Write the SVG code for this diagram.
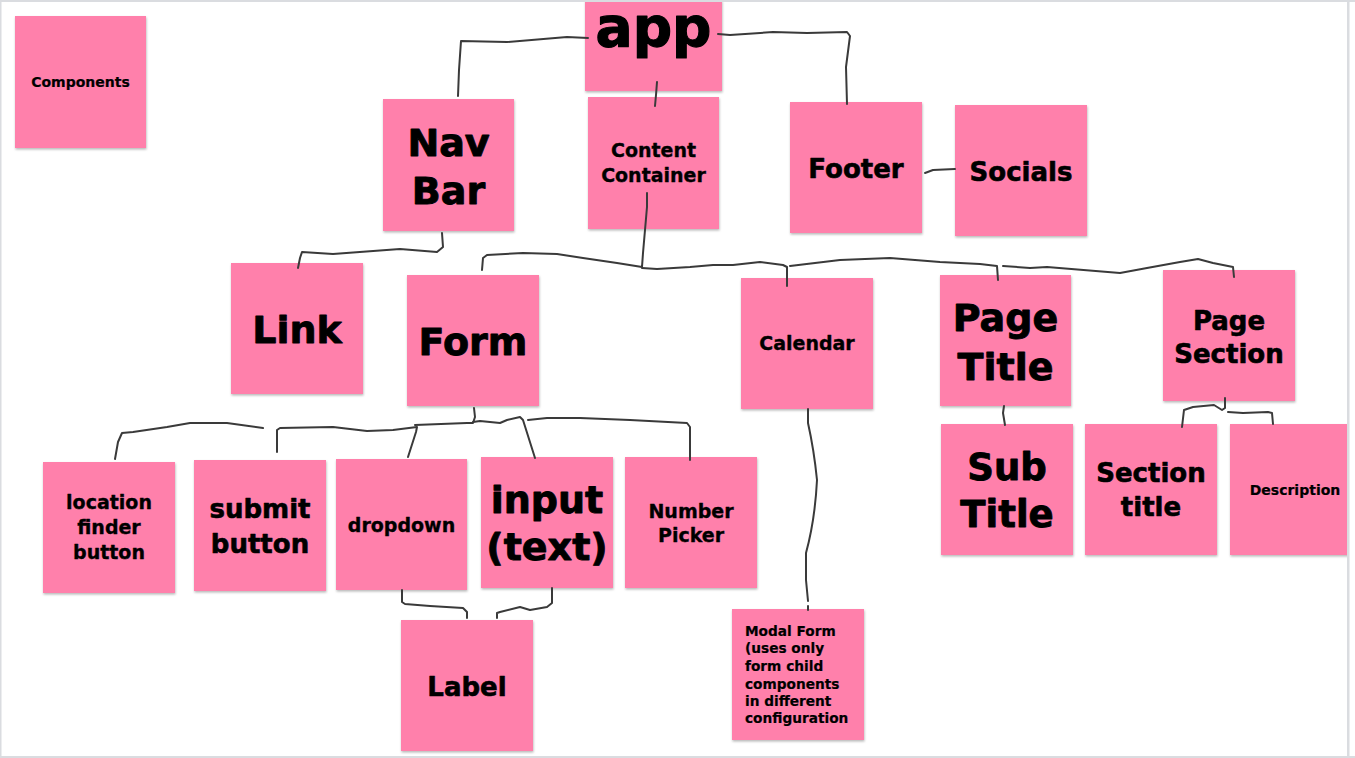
<svg xmlns="http://www.w3.org/2000/svg" width="1355" height="758" viewBox="0 0 1355 758">
<defs>
<filter id="sh" x="-10%" y="-10%" width="130%" height="130%">
<feDropShadow dx="0.5" dy="1.5" stdDeviation="1.2" flood-color="#000" flood-opacity="0.28"/>
</filter>
<clipPath id="slide"><rect x="0" y="0" width="1348" height="757"/></clipPath>
</defs>
<style>
.n{fill:#ff80ab;filter:url(#sh)}
text{font-family:"DejaVu Sans","Liberation Sans",sans-serif;font-weight:bold;fill:#000;stroke:#000;stroke-linejoin:round;text-anchor:middle}
.s14{font-size:14px;stroke-width:0.2}
.s19{font-size:19px;stroke-width:0.35}
.s26{font-size:26px;stroke-width:0.6}
.s38{font-size:38px;stroke-width:0.9}
.l{text-anchor:start}
.c{fill:none;stroke:#3a3a3a;stroke-width:2;stroke-linejoin:round;stroke-linecap:round}
</style>
<rect x="0" y="0" width="1355" height="758" fill="#fff"/>
<g clip-path="url(#slide)">
<g id="components"><rect class="n" x="15" y="16" width="131" height="132"/><text class="s14" x="80.5" y="87">Components</text></g>
<g id="app"><rect class="n" x="585" y="0" width="137" height="91"/><text x="653.5" y="46" style="font-size:55px;stroke-width:1.2">app</text></g>
<g id="navbar"><rect class="n" x="383" y="99" width="131" height="132"/><text class="s38" x="448.5" y="156">Nav</text><text class="s38" x="448.5" y="204">Bar</text></g>
<g id="content-container"><rect class="n" x="588" y="97" width="131" height="132"/><text class="s19" x="653.5" y="157">Content</text><text class="s19" x="653.5" y="182">Container</text></g>
<g id="footer"><rect class="n" x="790" y="102" width="132" height="131"/><text class="s26" x="856" y="178">Footer</text></g>
<g id="socials"><rect class="n" x="955" y="105" width="132" height="131"/><text class="s26" x="1021" y="181">Socials</text></g>
<g id="link"><rect class="n" x="231" y="263" width="132" height="131"/><text class="s38" x="297" y="343">Link</text></g>
<g id="form"><rect class="n" x="407" y="275" width="132" height="131"/><text class="s38" x="473" y="355">Form</text></g>
<g id="calendar"><rect class="n" x="741" y="278" width="132" height="131"/><text class="s19" x="807" y="350">Calendar</text></g>
<g id="page-title"><rect class="n" x="940" y="275" width="131" height="131"/><text class="s38" x="1005.5" y="331">Page</text><text class="s38" x="1005.5" y="380">Title</text></g>
<g id="page-section"><rect class="n" x="1163" y="270" width="132" height="131"/><text class="s26" x="1229" y="330">Page</text><text class="s26" x="1229" y="363">Section</text></g>
<g id="location-finder-button"><rect class="n" x="43" y="462" width="132" height="131"/><text class="s19" x="109" y="509">location</text><text class="s19" x="109" y="534">finder</text><text class="s19" x="109" y="559">button</text></g>
<g id="submit-button"><rect class="n" x="194" y="460" width="132" height="131"/><text class="s26" x="260" y="518">submit</text><text class="s26" x="260" y="553">button</text></g>
<g id="dropdown"><rect class="n" x="336" y="459" width="131" height="131"/><text class="s19" x="401.5" y="532">dropdown</text></g>
<g id="input-text"><rect class="n" x="481" y="457" width="132" height="131"/><text class="s38" x="547" y="513">input</text><text class="s38" x="547" y="560">(text)</text></g>
<g id="number-picker"><rect class="n" x="625" y="457" width="132" height="131"/><text class="s19" x="691" y="518">Number</text><text class="s19" x="691" y="542">Picker</text></g>
<g id="label"><rect class="n" x="401" y="620" width="132" height="131"/><text class="s26" x="467" y="696">Label</text></g>
<g id="modal-form"><rect class="n" x="732" y="609" width="132" height="131"/>
<text class="l s14" x="745" y="636" style="font-size:13.7px">Modal Form</text>
<text class="l s14" x="745" y="653" style="font-size:13.7px">(uses only</text>
<text class="l s14" x="745" y="671" style="font-size:13.7px">form child</text>
<text class="l s14" x="745" y="689" style="font-size:13.7px">components</text>
<text class="l s14" x="745" y="706" style="font-size:13.7px">in different</text>
<text class="l s14" x="745" y="723" style="font-size:13.7px">configuration</text></g>
<g id="sub-title"><rect class="n" x="941" y="424" width="132" height="131"/><text class="s38" x="1007" y="480" style="font-size:37px">Sub</text><text class="s38" x="1007" y="527" style="font-size:37px">Title</text></g>
<g id="section-title"><rect class="n" x="1085" y="424" width="132" height="131"/><text class="s26" x="1151" y="482">Section</text><text class="s26" x="1151" y="516">title</text></g>
<g id="description"><rect class="n" x="1230" y="424" width="132" height="131"/><text class="s14" x="1295" y="495">Description</text></g>
<g id="connectors">
<polyline class="c" points="588,38 567,37 507,42 461,41 459,70 458,96"/>
<polyline class="c" points="718,34 730,35 773,32 807,33 847,32 850,36 846,67 847,104"/>
<polyline class="c" points="657,82 656,95 655,106"/>
<polyline class="c" points="925,173 933,170 955,169"/>
<polyline class="c" points="442,233 443,247 437,252 400,249 333,254 302,252 300,258 298,268"/>
<polyline class="c" points="647,193 647,207 643,253 642,267 617,263 583,258 557,254 523,253 487,255 483,258 482,270"/>
<polyline class="c" points="642,268 657,269 690,267 713,265 733,265 760,262 783,265 787,267 787,286"/>
<polyline class="c" points="790,266 840,260 890,258 940,262 980,264 997,266 998,280"/>
<polyline class="c" points="1003,266 1030,268 1047,267 1120,273 1147,268 1180,262 1198,259 1213,263 1233,267 1234,277"/>
<polyline class="c" points="474,408 475,417 473,423 467,423 415,425"/>
<polyline class="c" points="277,452 277,430 280,428 333,427 367,431 393,430 417,427 416,432 408,457"/>
<polyline class="c" points="115,459 118,442 122,433 133,432 167,427 190,423 227,423 263,428"/>
<polyline class="c" points="473,422 480,421 500,423 507,420 520,417 523,420 535,458"/>
<polyline class="c" points="528,420 547,418 580,418 630,420 687,423 690,427 690,460"/>
<polyline class="c" points="402,590 402,602 405,604 430,606 463,608 467,612 467,618"/>
<polyline class="c" points="552,588 552,603 547,607 530,610 520,607 500,612 497,613 497,618"/>
<path class="c" d="M808,409 L808,423 Q814,450 817,480 Q815,520 806,553 L806,580 L808,601"/>
<line class="c" x1="808" y1="606" x2="808" y2="610"/>
<polyline class="c" points="1004,406 1003,413 1005,425"/>
<polyline class="c" points="1225,398 1225,408 1222,410 1214,405 1193,407 1184,410 1182,427"/>
<polyline class="c" points="1228,412 1243,413 1268,412 1272,413 1273,424"/>
</g>
</g>
<g id="frame" fill="#dadce0">
<rect x="0" y="0" width="1355" height="2"/>
<rect x="0" y="0" width="1.5" height="758"/>
<rect x="1347" y="0" width="2.5" height="758"/>
<rect x="0" y="756" width="1355" height="2"/>
</g>
</svg>
